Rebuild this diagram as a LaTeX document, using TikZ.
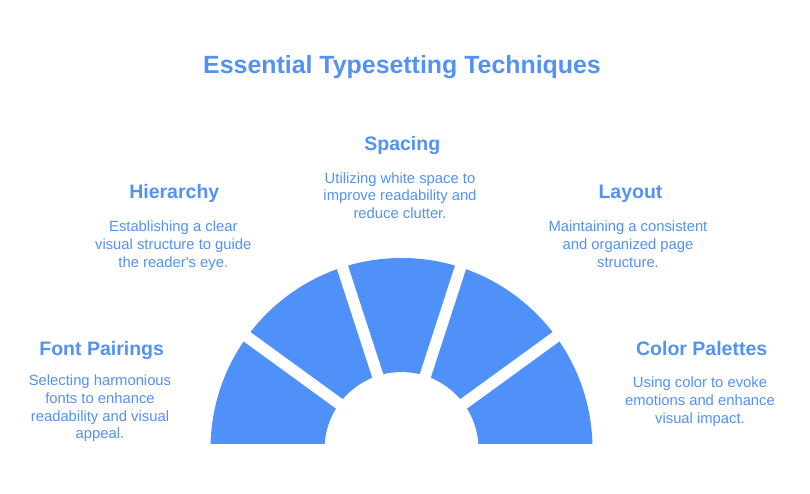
\documentclass[tikz,border=0pt]{standalone}
\usepackage{fontspec}
\setmainfont{Liberation Sans}
\usetikzlibrary{calc}
\definecolor{segblue}{RGB}{80,145,249}
\definecolor{txtblue}{RGB}{82,145,245}
\tikzset{
  ttl/.style={font=\fontsize{24.9}{30}\selectfont\bfseries, text=txtblue, inner sep=0, anchor=base},
  head/.style={font=\fontsize{19.5}{24}\selectfont\bfseries, text=txtblue, inner sep=0, anchor=base},
  desc/.style={font=\fontsize{14.8}{17.7}\selectfont, text=txtblue, inner sep=0, anchor=base, align=center},
  seg/.style={fill=segblue},
  gapband/.style={draw=white, line width=11.5pt}
}
\begin{document}
\begin{tikzpicture}[x=1pt,y=1pt]
\useasboundingbox (0,0) rectangle (810,493);
\coordinate (C) at (401.5,44);
% ring
\begin{scope}
\clip (0,50) rectangle (810,493);
\fill[seg] ($(C)+(191,0)$) arc[start angle=0, end angle=180, radius=191]
  -- ($(C)+(-77,0)$) arc[start angle=180, end angle=0, radius=77] -- cycle;
\end{scope}
\foreach \a in {36,72,108,144}{
  \draw[gapband] ($(C)+(\a:65)$) -- ($(C)+(\a:197)$);
}
% title
\node[ttl] (title) at (402,419) {Essential Typesetting Techniques};
% headings
\node[head] (hsp) at (402.3,342.3) {Spacing};
\node[head] (hhi) at (174.3,294) {Hierarchy};
\node[head] (hla) at (630.5,294) {Layout};
\node[head] (hfp) at (101.7,138) {Font Pairings};
\node[head] (hcp) at (701.7,138) {Color Palettes};
% descriptions (base anchor = baseline of last line)
\node[desc] (dsp) at (400,274.3) {Utilizing white space to\\improve readability and\\reduce clutter.};
\node[desc] (dhi) at (173.3,225.9) {Establishing a clear\\visual structure to guide\\the reader\textquotesingle s eye.};
\node[desc] (dla) at (628,225.9) {Maintaining a consistent\\and organized page\\structure.};
\node[desc] (dfp) at (100,54.2) {Selecting harmonious\\fonts to enhance\\readability and visual\\appeal.};
\node[desc] (dcp) at (700,69.9) {Using color to evoke\\emotions and enhance\\visual impact.};
\end{tikzpicture}
\end{document}
